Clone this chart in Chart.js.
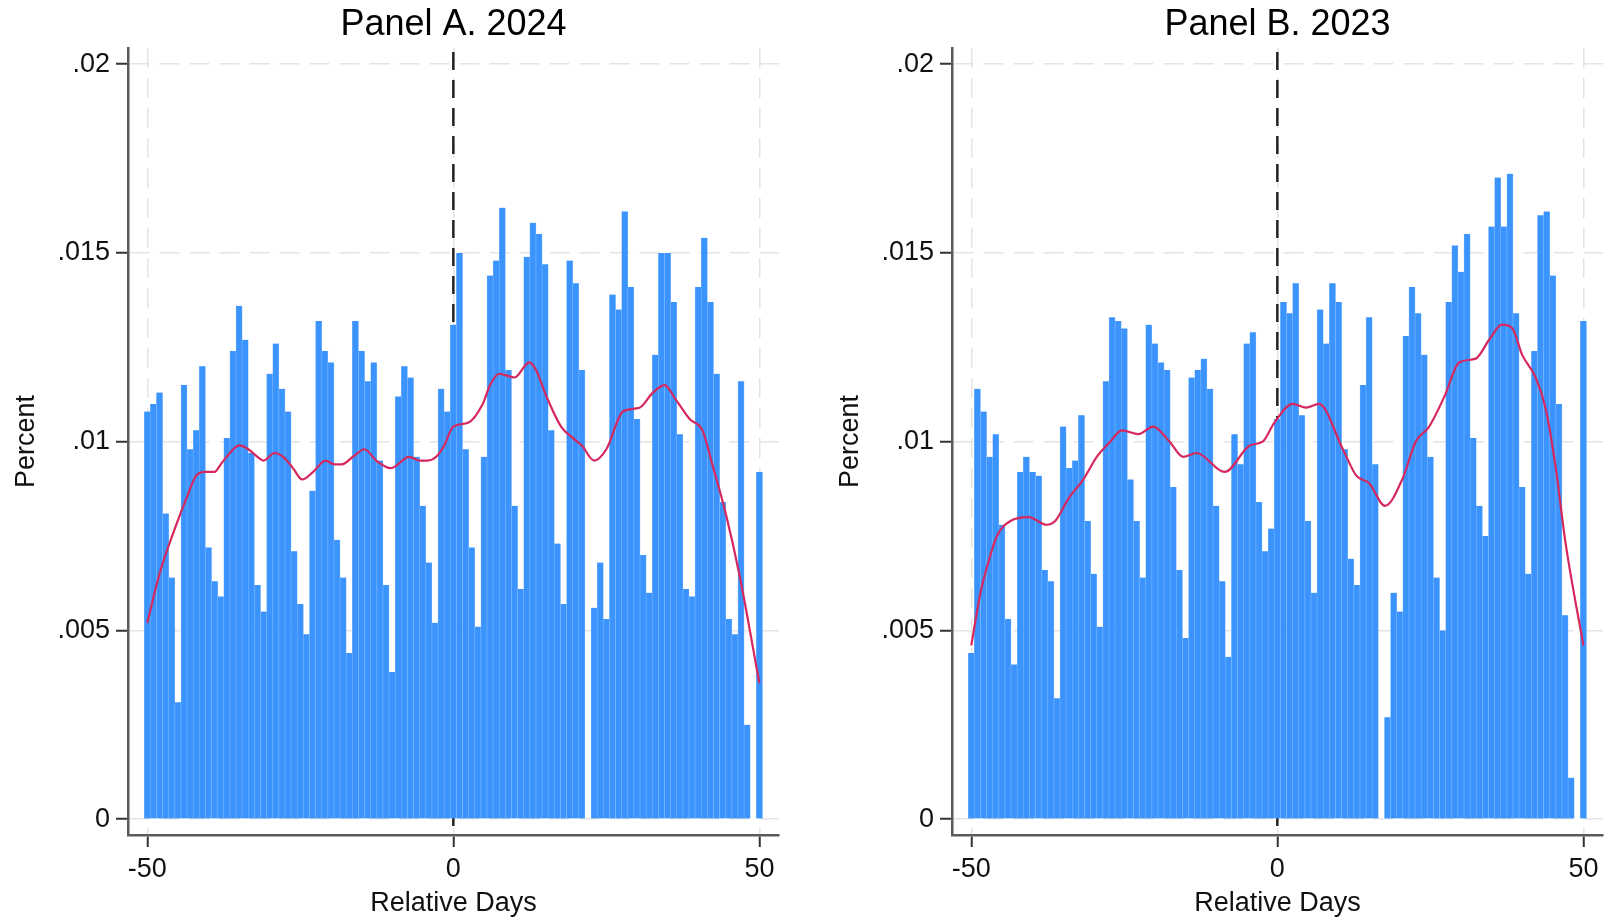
<!DOCTYPE html>
<html><head><meta charset="utf-8">
<script src="https://cdn.jsdelivr.net/npm/chart.js@4.4.1/dist/chart.umd.min.js"></script>
<style>
html,body{margin:0;padding:0;background:#fff;overflow:hidden;width:1614px;height:921px}
#ca{position:absolute;left:0;top:0}
#cb{position:absolute;left:824px;top:0}
</style></head><body>
<canvas id="ca" width="807" height="921"></canvas>
<canvas id="cb" width="790" height="921"></canvas>
<script>
// ---------- data ----------
const days = [-50,-49,-48,-47,-46,-45,-44,-43,-42,-41,-40,-39,-38,-37,-36,-35,-34,-33,-32,-31,
  -30,-29,-28,-27,-26,-25,-24,-23,-22,-21,-20,-19,-18,-17,-16,-15,-14,-13,-12,-11,
  -10,-9,-8,-7,-6,-5,-4,-3,-2,-1,0,1,2,3,4,5,6,7,8,9,
  10,11,12,13,14,15,16,17,18,19,20,21,22,23,24,25,26,27,28,29,
  30,31,32,33,34,35,36,37,38,39,40,41,42,43,44,45,46,47,48,49,50];

const pctA = [0.0108,0.0110,0.0113,0.0081,0.0064,0.0031,0.0115,0.0098,0.0103,0.0120,
  0.0072,0.0063,0.0059,0.0101,0.0124,0.0136,0.0127,0.0097,0.0062,0.0055,
  0.0118,0.0126,0.0114,0.0108,0.0071,0.0057,0.0049,0.0087,0.0132,0.0124,
  0.0121,0.0074,0.0064,0.0044,0.0132,0.0124,0.0116,0.0121,0.0095,0.0062,
  0.0039,0.0112,0.0120,0.0117,0.0096,0.0083,0.0068,0.0052,0.0114,0.0108,
  0.0131,0.0150,0.0098,0.0072,0.0051,0.0096,0.0144,0.0148,0.0162,0.0119,
  0.0083,0.0061,0.0149,0.0158,0.0155,0.0147,0.0103,0.0073,0.0057,0.0148,
  0.0142,0.0119,0,0.0056,0.0068,0.0053,0.0139,0.0135,0.0161,0.0141,
  0.0106,0.0070,0.0060,0.0123,0.0150,0.0150,0.0137,0.0102,0.0061,0.0059,
  0.0141,0.0154,0.0137,0.0118,0.0084,0.0053,0.0049,0.0116,0.0025,0,0.0092];

const pctB = [0.0044,0.0114,0.0108,0.0096,0.0102,0.0078,0.0053,0.0041,0.0092,0.0096,
  0.0092,0.0091,0.0066,0.0063,0.0032,0.0104,0.0093,0.0095,0.0107,0.0079,
  0.0065,0.0051,0.0116,0.0133,0.0132,0.0130,0.0090,0.0079,0.0064,0.0131,
  0.0126,0.0121,0.0119,0.0088,0.0066,0.0048,0.0117,0.0119,0.0122,0.0114,
  0.0083,0.0063,0.0043,0.0102,0.0094,0.0126,0.0129,0.0084,0.0071,0.0077,
  0.0106,0.0137,0.0134,0.0142,0.0107,0.0079,0.0060,0.0135,0.0126,0.0142,
  0.0137,0.0098,0.0069,0.0062,0.0115,0.0133,0.0094,0,0.0027,0.0060,
  0.0055,0.0128,0.0141,0.0134,0.0123,0.0096,0.0064,0.0050,0.0137,0.0152,
  0.0145,0.0155,0.0101,0.0083,0.0075,0.0157,0.0170,0.0157,0.0171,0.0134,
  0.0088,0.0065,0.0124,0.0160,0.0161,0.0144,0.0110,0.0054,0.0011,0,0.0132];

// density curves: [day, value]
const kdeA = [[-50,0.0052],[-48,0.0065],[-45.5,0.0077],[-43.6,0.0085],[-42,0.0091],[-40.5,0.0092],
  [-39,0.0092],[-38,0.0094],[-36.5,0.0097],[-35,0.0099],[-33.5,0.0098],[-32,0.0096],[-31,0.0095],
  [-29.2,0.0097],[-27.8,0.0096],[-26.2,0.0093],[-24.7,0.0090],[-22.9,0.0092],[-20.9,0.0095],
  [-19.4,0.0094],[-18.2,0.0094],[-16.4,0.0096],[-14.5,0.0098],[-12.6,0.0095],[-10.2,0.0093],
  [-7.2,0.0096],[-5.5,0.0095],[-4.2,0.0095],[-2.8,0.0096],[-1.5,0.0099],[0,0.0104],[2.4,0.0105],
  [4.8,0.0110],[6,0.0115],[7.5,0.0118],[10,0.0117],[12.4,0.0121],[13.5,0.0119],[15.2,0.0112],
  [17.6,0.0104],[19.5,0.0101],[21,0.0099],[23,0.0095],[25,0.0098],[27.7,0.0108],[30.4,0.0109],
  [32.6,0.0113],[34.5,0.0115],[36.4,0.0111],[38.6,0.0106],[40.7,0.0103],[42.3,0.0094],
  [44.5,0.0081],[46.7,0.0065],[50,0.0036]];

const kdeB = [[-50,0.0046],[-48.5,0.0060],[-47.4,0.0067],[-45.8,0.0075],[-43.6,0.0079],[-40.6,0.0080],
  [-37.7,0.0078],[-36.3,0.0079],[-34.1,0.0085],[-31.7,0.0090],[-29.5,0.0096],[-27.3,0.0100],
  [-25.4,0.0103],[-22.7,0.0102],[-20.3,0.0104],[-17.6,0.0100],[-15.4,0.0096],[-13.2,0.0097],
  [-8.6,0.0092],[-4.5,0.0099],[-2.4,0.0100],[-0.5,0.0105],[2.5,0.0110],[4.7,0.0109],[6.8,0.0110],
  [10.7,0.0098],[12.9,0.0091],[15,0.0089],[17.6,0.0083],[20.4,0.0090],[22.6,0.0100],[24.8,0.0104],
  [27.3,0.0112],[29.7,0.0121],[32.4,0.0122],[34.6,0.0127],[36.7,0.0131],[38.4,0.0130],[40,0.0123],
  [42.2,0.0117],[43.8,0.0109],[45.4,0.0094],[47.1,0.0073],[50,0.0046]];

const yTickValues = [0, 0.005, 0.01, 0.015, 0.02];
const yTickLabels = ['0', '.005', '.01', '.015', '.02'];
const xTickValues = [-50, 0, 50];
const xTickLabels = ['-50', '0', '50'];
const titles = ['Panel A. 2024', 'Panel B. 2023'];

// ---------- chart ----------
const FAM = "'Liberation Sans', Arial, Helvetica, sans-serif";
Chart.defaults.font.family = FAM;

const zeroLine = {
  id: 'zeroLine',
  beforeDatasetsDraw(chart) {
    const {ctx, chartArea, scales} = chart;
    const px = scales.x.getPixelForValue(0);
    ctx.save();
    ctx.strokeStyle = '#222';
    ctx.lineWidth = 2.5;
    ctx.setLineDash([18, 10]);
    ctx.beginPath();
    ctx.moveTo(px, chartArea.top + 4);
    ctx.lineTo(px, chartArea.bottom);
    ctx.stroke();
    ctx.restore();
  }
};

function gridCfg() {
  return {
    color: '#e4e4e4', lineWidth: 1.5, offset: false,
    drawTicks: true, tickLength: 12, tickColor: '#333', tickWidth: 2
  };
}

function makeChart(id, title, vals, kde, rightPad) {
  return new Chart(document.getElementById(id), {
    type: 'bar',
    data: {
      datasets: [
        {
          type: 'line', order: 0,
          data: kde.map(p => ({x: p[0], y: p[1]})),
          borderColor: '#d6285c', borderWidth: 2.2, pointRadius: 0,
          fill: false, cubicInterpolationMode: 'monotone'
        },
        {
          type: 'bar', order: 1,
          data: days.map((d, i) => ({x: d, y: vals[i]})),
          backgroundColor: '#3b94fd',
          borderColor: '#7ab6fb',
          borderWidth: {left: 0.6, right: 0.6, top: 0, bottom: 0},
          borderSkipped: false,
          barPercentage: 1, categoryPercentage: 1, grouped: false
        }
      ]
    },
    options: {
      responsive: false, animation: false, devicePixelRatio: 1,
      layout: {padding: {left: 0, right: rightPad, top: 0, bottom: 0}},
      plugins: {
        legend: {display: false},
        tooltip: {enabled: false},
        title: {
          display: true, text: title, fullSize: false,
          font: {size: 36, weight: 'normal', family: FAM}, color: '#000',
          padding: {top: 3.6, bottom: 1.2}
        }
      },
      scales: {
        x: {
          type: 'linear', min: -53.15, max: 53.2, offset: false,
          afterBuildTicks: s => { s.ticks = xTickValues.map(v => ({value: v})); },
          afterFit: s => { s.height = 86; },
          ticks: {
            callback: (v, i) => xTickLabels[i],
            font: {size: 27}, color: '#111', padding: 6,
            maxRotation: 0, autoSkip: false
          },
          grid: gridCfg(),
          border: {display: true, color: '#5a5a5a', width: 2.5, dash: [20, 10]},
          title: {display: true, text: 'Relative Days', font: {size: 27}, color: '#111',
                  padding: {top: 0, bottom: 1}}
        },
        y: {
          type: 'linear', min: -0.00042, max: 0.02043,
          afterBuildTicks: s => { s.ticks = yTickValues.map(v => ({value: v})); },
          afterFit: s => { s.width = 128; },
          ticks: {
            callback: (v, i) => yTickLabels[i],
            font: {size: 27}, color: '#111', padding: 6, autoSkip: false
          },
          grid: gridCfg(),
          border: {display: true, color: '#5a5a5a', width: 2.5, dash: [20, 10]},
          title: {display: true, text: 'Percent', font: {size: 27}, color: '#111',
                  padding: {top: 10, bottom: 0}}
        }
      }
    },
    plugins: [zeroLine]
  });
}

makeChart('ca', titles[0], pctA, kdeA, 28);
makeChart('cb', titles[1], pctB, kdeB, 11);
</script>
</body></html>
